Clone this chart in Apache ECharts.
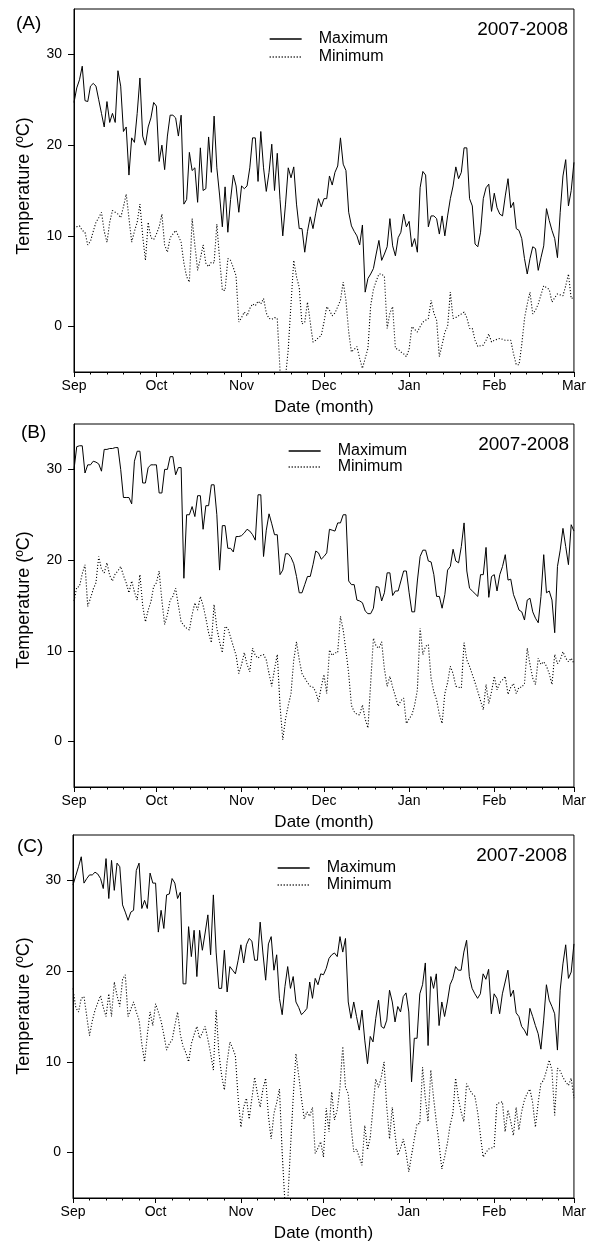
<!DOCTYPE html>
<html>
<head>
<meta charset="utf-8">
<script src="https://cdn.jsdelivr.net/npm/echarts@6/dist/echarts.min.js"></script>
<style>
html,body{margin:0;padding:0;background:#fff;}
#chart{width:589px;height:1245px;}
</style>
</head>
<body>
<div id="chart"></div>
<script>
// ---------- DATA (daily values, index 0 = 1 Sep 2007 ... 182 = 1 Mar 2008) ----------
const monthLabels = ['Sep','Oct','Nov','Dec','Jan','Feb','Mar'];
const monthTickDays = [0,30,61,91,122,153,182];
const yTickValues = [0,10,20,30];
const panelLabels = ['(A)','(B)','(C)'];
const seasonLabel = '2007-2008';
const seriesNames = ['Maximum','Minimum'];

const maxA = [
 24.7,26.3,27.2,28.7,24.9,24.8,26.5,26.8,26.5,25.0,
 23.5,22.0,24.8,22.5,23.5,22.5,28.2,26.5,21.5,22.0,
 16.7,20.8,20.3,23.5,27.4,21.0,20.0,22.0,23.0,24.7,
 24.3,18.2,20.0,17.3,21.0,23.3,23.3,23.0,21.0,23.3,
 13.5,14.0,19.2,17.2,17.5,13.7,19.7,15.0,15.2,20.9,
 17.0,23.2,17.5,14.5,11.0,15.4,10.4,14.0,16.7,15.5,
 12.6,15.5,15.2,15.5,17.5,20.8,20.8,16.0,21.5,17.5,
 14.9,17.0,20.1,15.0,19.1,14.0,10.0,13.5,17.5,16.4,
 17.6,13.5,10.8,10.8,8.2,10.5,12.1,10.8,12.5,14.1,
 13.2,14.1,14.1,16.6,15.6,17.0,17.7,20.8,17.9,17.2,
 12.6,11.1,10.5,10.0,9.0,11.2,3.8,5.3,5.8,6.4,
 8.0,9.5,7.3,8.0,8.8,11.9,8.9,7.8,9.8,10.4,
 12.4,11.0,11.6,8.8,9.7,8.2,15.3,17.1,16.7,11.0,
 12.2,12.2,11.9,10.2,12.2,10.0,12.2,14.1,15.5,17.6,
 16.3,17.0,19.7,19.7,14.1,13.3,9.1,8.8,10.4,14.1,
 15.3,15.7,12.7,14.7,13.1,12.4,12.2,14.4,16.3,13.1,
 13.7,10.8,10.6,9.7,7.5,5.8,7.5,8.8,8.6,6.2,
 7.6,8.9,13.0,11.7,10.6,9.7,7.6,12.6,16.6,18.4,
 13.3,15.0,18.1];
const minA = [
 10.8,11.0,11.1,10.6,10.4,9.0,9.4,10.5,11.5,12.0,
 12.6,10.5,9.3,11.5,12.8,12.6,12.4,12.0,13.2,14.6,
 12.0,9.3,10.5,11.5,13.5,10.0,7.3,11.5,9.8,9.6,
 10.2,11.0,12.4,9.0,8.2,9.8,10.2,10.6,10.0,9.3,
 7.0,5.5,4.9,11.9,9.0,6.2,7.5,9.0,7.0,6.6,
 7.1,7.0,11.3,7.5,4.0,4.0,7.5,7.3,6.5,5.6,
 0.5,1.0,1.6,1.2,2.0,2.5,2.3,2.8,2.5,3.1,
 1.5,0.9,0.8,1.0,0.9,-4.8,-6.0,-5.5,-2.5,2.5,
 7.3,5.5,4.3,0.3,0.5,2.7,0.5,-1.7,-1.5,-1.2,
 -1.0,0.5,2.2,1.8,1.2,1.5,2.2,2.9,4.9,2.9,
 -0.6,-2.8,-2.5,-2.2,-3.5,-4.6,-3.5,-2.4,2.3,4.1,
 5.0,5.8,5.8,5.5,-0.2,1.5,2.2,-2.4,-2.5,-2.8,
 -3.0,-3.3,-2.5,0.0,-0.3,-0.6,0.0,0.5,0.7,0.9,
 2.9,1.5,0.7,-3.3,-2.0,-0.6,0.0,3.8,0.9,1.0,
 1.2,1.4,1.6,1.0,-0.2,-0.2,-1.5,-2.2,-2.1,-2.05,
 -1.5,-0.8,-1.7,-1.5,-1.4,-1.3,-1.4,-1.5,-1.5,-1.5,
 -3.0,-4.2,-4.2,-2.0,0.9,2.5,3.8,1.4,1.8,2.5,
 3.5,4.5,4.3,4.1,2.7,3.2,3.6,3.5,3.4,4.5,
 5.8,3.1,3.2];
const maxB = [
 30.0,32.5,32.6,32.6,29.6,30.5,30.5,30.9,30.8,30.6,
 29.8,32.2,32.2,32.3,32.3,32.4,32.4,30.0,26.9,26.9,
 26.9,26.2,30.9,32.0,32.0,28.5,28.5,30.2,30.5,30.5,
 30.5,27.4,27.4,30.0,30.0,31.4,31.4,29.4,30.2,30.2,
 18.0,25.0,25.0,25.9,24.8,27.1,27.1,23.4,26.0,26.0,
 28.3,28.3,25.0,18.9,23.8,23.8,21.3,21.3,20.9,22.6,
 22.6,22.7,23.0,23.4,23.2,22.8,22.2,27.2,27.2,20.4,
 23.3,25.1,24.0,22.8,22.8,18.4,18.9,20.7,20.7,20.3,
 19.6,18.2,16.4,16.4,17.3,18.2,18.2,19.5,21.0,20.8,
 20.1,20.4,20.8,23.4,23.3,23.2,24.1,24.1,25.0,25.0,
 17.7,17.3,17.3,15.6,15.5,15.3,14.4,14.1,14.1,14.7,
 17.1,17.0,15.5,16.4,18.6,18.6,16.1,16.6,16.6,17.7,
 18.8,18.8,16.4,14.3,14.3,17.7,20.4,21.1,21.1,19.9,
 19.8,18.4,16.0,16.0,14.7,16.2,18.9,19.3,21.2,19.9,
 19.7,21.5,24.1,18.8,16.9,16.6,16.3,16.0,18.4,18.4,
 21.4,15.9,18.2,18.4,16.6,18.4,19.3,20.6,17.8,17.9,
 16.2,15.4,14.5,14.3,13.4,15.6,15.8,14.3,13.6,13.1,
 16.0,20.6,16.4,16.6,15.6,12.0,19.3,21.1,23.5,21.5,
 19.5,23.9,23.2];
const minB = [
 15.5,17.0,17.1,18.5,19.5,14.9,15.8,16.8,17.5,20.4,
 19.0,18.6,19.7,18.3,17.7,18.5,18.8,19.3,18.3,17.5,
 16.4,17.7,16.5,15.6,18.4,15.0,13.2,14.5,15.4,17.1,
 17.5,18.8,15.5,12.9,14.0,15.6,16.0,16.9,15.0,13.2,
 12.8,12.5,12.3,14.0,15.3,14.5,16.0,15.0,13.6,12.0,
 10.9,15.1,12.5,11.0,9.8,12.7,12.5,11.5,10.5,9.5,
 7.5,8.5,9.8,8.5,7.7,10.3,9.5,9.2,9.5,9.6,
 9.0,7.5,6.1,8.0,9.6,4.0,0.2,2.5,4.0,5.3,
 9.0,11.0,9.0,7.5,7.0,6.5,6.1,6.0,5.5,4.4,
 6.0,7.4,5.3,10.1,9.5,9.8,9.8,13.8,12.3,10.0,
 7.5,4.0,3.3,3.0,2.95,4.05,2.5,1.5,6.4,11.4,
 10.5,10.3,11.0,8.0,6.1,7.2,6.0,5.0,3.9,4.5,
 4.8,2.0,2.5,2.95,4.0,5.7,12.5,9.6,10.5,10.7,
 7.0,5.5,4.6,3.0,2.0,5.3,6.5,8.3,7.5,6.1,
 6.0,5.9,10.9,9.0,8.3,7.4,6.5,5.5,4.5,3.5,
 6.3,4.2,5.5,7.2,5.7,6.5,6.8,7.2,5.2,6.0,
 6.4,5.3,6.0,6.0,6.4,10.3,8.5,7.0,6.3,9.2,
 8.5,8.8,8.3,7.5,6.3,9.6,8.6,9.0,9.9,9.2,
 8.8,9.2,8.6];
const maxC = [
 29.5,30.5,31.5,32.6,29.7,30.2,30.6,30.6,30.9,30.7,
 30.2,29.1,32.4,28.0,32.2,28.9,31.9,31.5,27.3,26.5,
 25.6,26.5,26.7,31.1,31.9,26.9,27.8,26.9,30.8,29.7,
 29.7,24.3,26.7,24.7,28.4,28.5,30.2,29.7,28.0,28.7,
 18.6,18.6,24.9,21.6,24.5,19.4,24.5,22.3,24.2,26.2,
 21.8,28.4,22.1,18.1,18.1,22.3,17.7,20.5,20.1,19.7,
 21.2,22.9,20.9,22.9,23.6,23.3,21.2,21.2,25.4,22.0,
 19.0,23.0,23.8,20.1,21.8,17.0,15.2,18.3,20.5,18.1,
 19.4,16.6,16.0,15.2,15.5,15.9,18.8,17.0,19.2,18.5,
 19.7,19.6,20.3,21.4,21.8,22.0,21.6,23.8,22.1,23.6,
 16.6,14.8,16.6,15.0,13.5,15.7,12.4,9.8,12.8,12.2,
 14.8,16.8,13.9,13.7,14.6,17.9,16.6,14.4,16.1,15.5,
 17.2,17.6,15.5,7.8,12.6,12.6,17.5,18.5,20.9,11.8,
 19.4,18.1,19.7,14.0,16.6,15.0,16.6,18.5,19.2,20.5,
 20.1,20.1,22.1,23.4,19.4,18.1,17.5,17.0,17.5,19.7,
 19.1,20.2,15.3,17.5,17.0,15.3,17.5,18.8,20.1,17.2,
 17.9,15.4,15.0,13.9,13.5,12.9,15.9,15.0,14.0,13.1,
 11.4,14.6,18.5,16.8,16.1,15.3,11.3,17.9,20.8,22.9,
 19.2,19.9,23.0];
const minC = [
 18.1,16.0,15.5,17.0,17.2,15.0,12.9,14.5,15.7,16.5,
 17.3,16.0,15.0,17.5,15.0,18.8,17.3,16.1,19.1,19.6,
 15.0,15.8,16.6,15.5,14.6,12.0,10.0,13.0,15.5,14.0,
 16.4,15.5,14.5,13.0,11.3,12.0,12.4,14.0,15.5,13.0,
 11.7,11.0,10.0,12.0,13.0,13.9,12.6,13.2,13.9,12.5,
 10.9,9.1,15.7,11.0,8.5,6.9,10.0,12.2,11.5,10.7,
 6.0,2.8,5.0,6.0,3.7,6.0,8.3,6.5,5.0,7.0,
 8.2,4.0,1.5,4.3,5.5,7.0,0.0,-5.5,-5.5,0.5,
 6.0,10.9,8.5,6.0,3.7,4.5,4.0,5.0,-0.1,0.5,
 1.2,-0.5,4.9,2.3,6.7,3.6,4.7,7.2,11.7,7.2,
 6.5,3.0,0.1,0.4,-0.5,-1.4,3.0,0.3,1.7,5.0,
 8.1,7.2,8.3,10.0,5.0,1.5,5.0,2.0,-0.3,0.5,
 1.5,0.0,-2.1,-0.3,1.5,3.2,3.2,9.4,6.0,3.4,
 9.1,6.0,3.4,1.0,-1.8,-0.5,1.0,3.0,4.3,8.2,
 6.0,4.5,3.4,7.6,7.0,6.5,6.2,4.5,2.0,-0.5,
 0.0,0.4,0.5,0.6,5.4,5.5,5.6,2.3,4.7,3.5,
 1.9,5.0,2.5,4.5,5.8,6.5,7.0,5.5,2.8,5.5,
 7.6,8.0,9.0,10.2,9.1,4.1,9.3,9.0,8.3,7.8,
 7.4,8.2,6.0];

// ---------- LAYOUT ----------
const FONT = '"Liberation Sans", Arial, Helvetica, sans-serif';
const panelData = [[maxA, minA], [maxB, minB], [maxC, minC]];
const layout = [
  {top: 9,   left: 74, width: 505, height: 363, label: [16, 24],  year: [568, 30],  ytitle: [24, 186],  legend: [269, 31],  legendGap: 2},
  {top: 424, left: 74, width: 505, height: 363, label: [21, 433], year: [569, 445], ytitle: [24, 600],  legend: [288, 443], legendGap: 0},
  {top: 835, left: 73, width: 504, height: 363, label: [17, 847], year: [567, 856], ytitle: [24, 1006], legend: [277, 860], legendGap: 1}
];

// minor ticks: each month split into 5
const minorTickDays = [];
for (let i = 0; i < monthTickDays.length - 1; i++) {
  const a = monthTickDays[i], b = monthTickDays[i + 1];
  for (let k = 1; k < 5; k++) minorTickDays.push(a + (b - a) * k / 5);
}

const grids = [], xAxes = [], yAxes = [], series = [], legends = [], graphics = [];
layout.forEach((L, p) => {
  grids.push({left: L.left, top: L.top, width: L.width, height: L.height,
    show: true, borderColor: '#000', borderWidth: 1, backgroundColor: 'transparent'});
  // major x axis
  xAxes.push({
    type: 'value', gridIndex: p, min: 0, max: 182, position: 'bottom',
    axisLine: {show: true, onZero: false, lineStyle: {color: '#000', width: 1}},
    axisTick: {show: true, inside: false, length: 5, customValues: monthTickDays, lineStyle: {color: '#000', width: 1}},
    axisLabel: {show: true, customValues: monthTickDays, margin: 7, fontSize: 14, color: '#000', fontFamily: FONT,
      hideOverlap: false,
      formatter: v => { const i = monthTickDays.indexOf(Math.round(v)); return i >= 0 ? monthLabels[i] : ''; }},
    splitLine: {show: false},
    name: 'Date (month)', nameLocation: 'middle', nameGap: 27,
    nameTextStyle: {fontSize: 17, color: '#000', fontFamily: FONT}
  });
  // minor x ticks
  xAxes.push({
    type: 'value', gridIndex: p, min: 0, max: 182, position: 'bottom',
    axisLine: {show: false, onZero: false},
    axisTick: {show: true, inside: false, length: 2.5, customValues: minorTickDays, lineStyle: {color: '#000', width: 1}},
    axisLabel: {show: false},
    splitLine: {show: false}
  });
  yAxes.push({
    type: 'value', gridIndex: p, min: -5, max: 35,
    axisLine: {show: true, onZero: false, lineStyle: {color: '#000', width: 1}},
    axisTick: {show: true, inside: false, length: 6, customValues: yTickValues, lineStyle: {color: '#000', width: 1}},
    axisLabel: {show: true, customValues: yTickValues, margin: 12, fontSize: 14, color: '#000', fontFamily: FONT},
    splitLine: {show: false}
  });
  const [mx, mn] = panelData[p];
  series.push({
    type: 'line', name: seriesNames[0], xAxisIndex: 2 * p, yAxisIndex: p,
    data: mx.map((v, i) => [i, v]), symbol: 'none', showSymbol: false, clip: true,
    lineStyle: {color: '#000', width: 1, type: 'solid'}, itemStyle: {color: '#000'}
  });
  series.push({
    type: 'line', name: seriesNames[1], xAxisIndex: 2 * p, yAxisIndex: p,
    data: mn.map((v, i) => [i, v]), symbol: 'none', showSymbol: false, clip: true,
    lineStyle: {color: '#000', width: 1.1, type: [1.1, 1.9]}, itemStyle: {color: '#000'}
  });
  legends.push({
    orient: 'vertical', left: L.legend[0], top: L.legend[1], itemWidth: 32, itemHeight: 12,
    itemGap: L.legendGap, selectedMode: false, padding: 0,
    itemStyle: {opacity: 0, borderWidth: 0},
    lineStyle: {width: 1.3, color: '#000', opacity: 1},
    data: seriesNames.map(n => ({name: n})),
    textStyle: {fontSize: 16, color: '#000', fontFamily: FONT, padding: [0, 0, 0, 12]}
  });
  graphics.push({type: 'text', x: L.label[0], y: L.label[1], silent: true,
    style: {text: panelLabels[p], fontSize: 19, fontFamily: FONT, fill: '#000', align: 'left', verticalAlign: 'middle'}});
  graphics.push({type: 'text', x: L.year[0], y: L.year[1], silent: true,
    style: {text: seasonLabel, fontSize: 19, fontFamily: FONT, fill: '#000', align: 'right', verticalAlign: 'middle'}});
  graphics.push({type: 'text', x: L.ytitle[0], y: L.ytitle[1], rotation: Math.PI / 2, silent: true,
    style: {text: 'Temperature (ºC)', fontSize: 18, fontFamily: FONT, fill: '#000', align: 'center', verticalAlign: 'middle'}});
});

const chart = echarts.init(document.getElementById('chart'), null, {renderer: 'canvas'});
chart.setOption({
  animation: false,
  backgroundColor: '#fff',
  textStyle: {fontFamily: FONT},
  grid: grids,
  xAxis: xAxes,
  yAxis: yAxes,
  legend: legends,
  series: series,
  graphic: graphics
});
</script>
</body>
</html>
